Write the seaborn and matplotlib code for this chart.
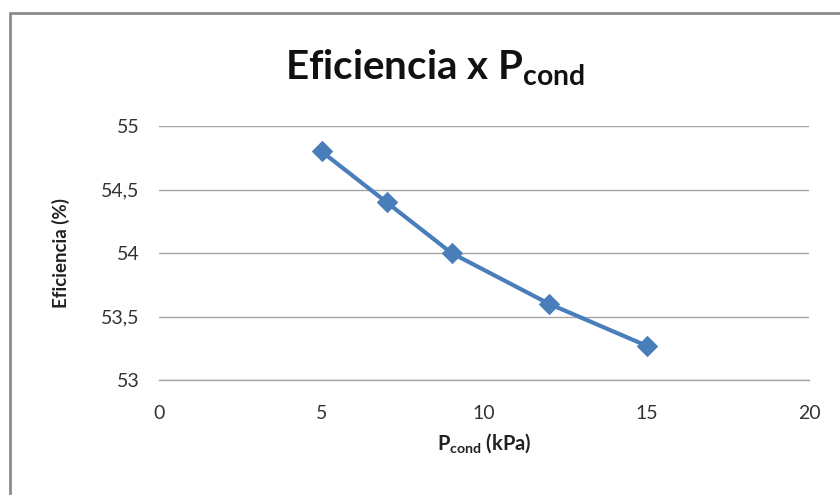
import matplotlib
matplotlib.use("Agg")
import matplotlib.pyplot as plt
import seaborn as sns
import pandas as pd
from matplotlib.ticker import FuncFormatter
from matplotlib.lines import Line2D

pcond = [5, 7, 9, 12, 15]
eficiencia = [54.8, 54.4, 54.0, 53.6, 53.27]
x_ticks = [0, 5, 10, 15, 20]
y_ticks = [53, 53.5, 54, 54.5, 55]

df = pd.DataFrame({"pcond": pcond, "eficiencia": eficiencia})

sns.set_style("white")
plt.rcParams["font.family"] = ["Lato", "DejaVu Sans"]
plt.rcParams["mathtext.fontset"] = "custom"
plt.rcParams["mathtext.rm"] = "Lato"
plt.rcParams["mathtext.bf"] = "Lato:bold"
plt.rcParams["mathtext.it"] = "Lato:italic"

fig = plt.figure(figsize=(8.4, 4.95), dpi=100)
ax = fig.add_axes([159/840, 1 - 380/495, 650/840, 254/495])

for yv in y_ticks:
    ax.axhline(yv, color="#a6a6a6", lw=1.0, zorder=0)

sns.lineplot(data=df, x="pcond", y="eficiencia", ax=ax, color="#4a7ebb",
             lw=3.0, marker="D", markersize=10, markeredgecolor="#4a7ebb",
             zorder=3)

ax.set_xlim(0, 20)
ax.set_ylim(53, 55)
ax.set_xticks(x_ticks)
ax.set_yticks(y_ticks)
ax.yaxis.set_major_formatter(FuncFormatter(lambda v, p: (f"{v:g}").replace(".", ",")))

for s in ["top", "right", "left"]:
    ax.spines[s].set_visible(False)
ax.spines["bottom"].set_color("#a6a6a6")
ax.spines["bottom"].set_linewidth(1.0)
ax.tick_params(axis="x", direction="out", length=6, color="#a6a6a6", width=1,
               labelsize=14, labelcolor="#333333", pad=12)
ax.tick_params(axis="y", length=0, labelsize=14, labelcolor="#333333", pad=14)

ax.set_xlabel(r"P$_{\mathbf{cond}}$ (kPa)", fontsize=14.5, fontweight="bold",
              color="#222222", labelpad=7)
ax.set_ylabel("Eficiencia (%)", fontsize=13.5, fontweight="bold",
              color="#222222", labelpad=22)

fig.text(435/840, 1 - 68/495, r"Eficiencia x P$_{\mathbf{cond}}$", ha="center",
         va="center", fontsize=29, fontweight="bold", color="#111111")

# chart border (left and top visible)
fig.add_artist(Line2D([10/840, 10/840], [0, 1 - 13/495], transform=fig.transFigure,
                      color="#8c8c8c", lw=2))
fig.add_artist(Line2D([10/840, 1], [1 - 13/495, 1 - 13/495], transform=fig.transFigure,
                      color="#8c8c8c", lw=2))

fig.savefig("out.png", dpi=100, facecolor="white")
